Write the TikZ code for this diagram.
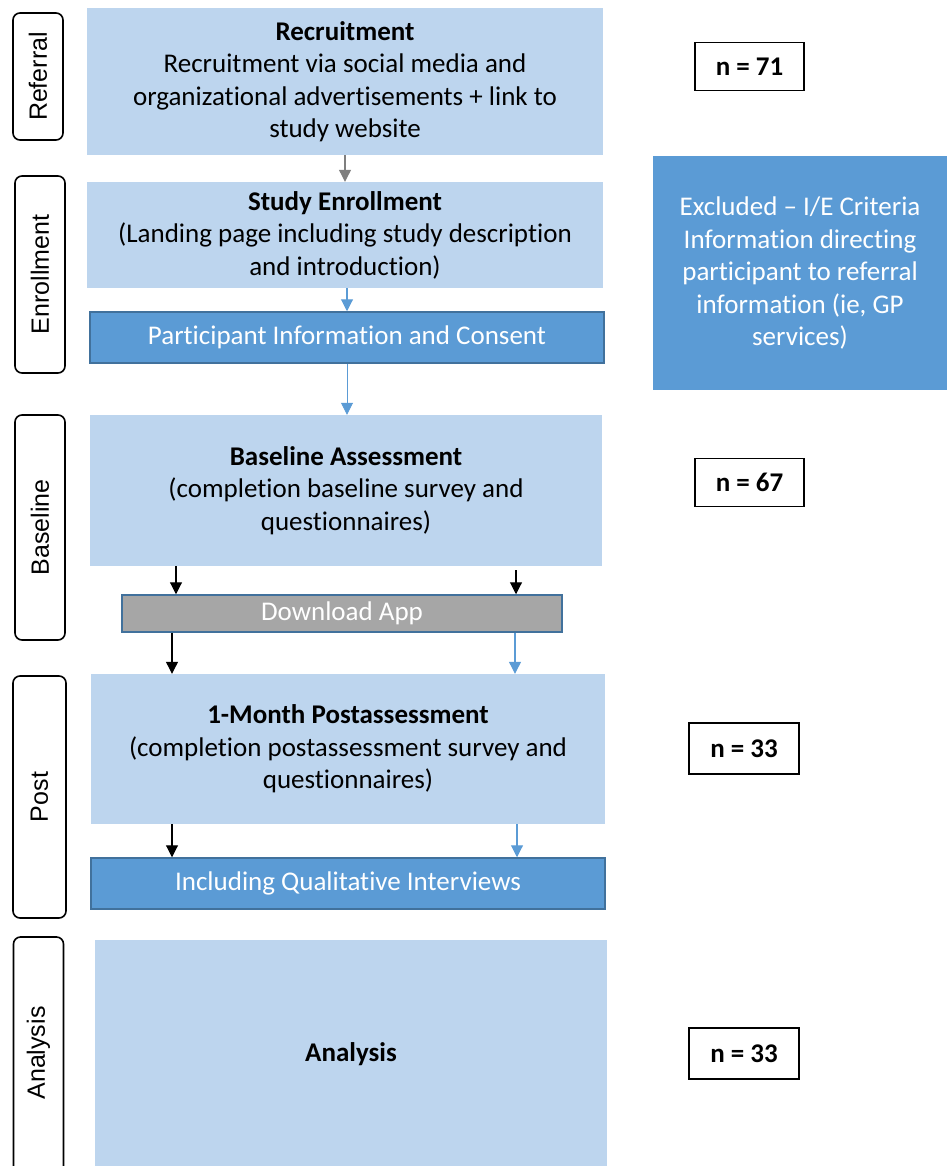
\documentclass[tikz,border=0pt]{standalone}
\usepackage{fontspec}
\setmainfont{Carlito}[Ligatures={NoCommon}]
\newfontfamily\arialf{Liberation Sans}
\usetikzlibrary{arrows.meta}
\definecolor{lblue}{HTML}{BDD5EE}
\definecolor{mblue}{HTML}{5B9BD5}
\definecolor{dblue}{HTML}{41719C}
\definecolor{gbox}{HTML}{A6A6A6}
\definecolor{garr}{HTML}{7F7F7F}
\tikzset{
  txt/.style={font=\fontsize{27}{32.5}\selectfont, align=center},
  lbox/.style={rectangle, fill=lblue, draw=none, txt, inner sep=0pt},
  mbox/.style={rectangle, fill=mblue, draw=dblue, line width=1.5pt, txt, text=white, inner sep=0pt},
  gboxs/.style={rectangle, fill=gbox, draw=dblue, line width=1.5pt, txt, text=white, inner sep=0pt},
  nbox/.style={rectangle, fill=white, draw=black, line width=1.8pt, txt, font=\fontsize{27}{32.5}\selectfont\bfseries, inner sep=0pt, minimum width=109pt, minimum height=48pt},
  sidebox/.style={rectangle, rounded corners=7pt, draw=black, line width=1.6pt, fill=white, minimum width=50pt},
  sidetxt/.style={rotate=90, font=\arialf\fontsize{25}{30}\selectfont},
  arr/.style={-{Triangle[width=12pt,length=12pt]}, line width=1.1pt},
  karr/.style={arr, black},
  barr/.style={arr, mblue},
  garrow/.style={arr, garr},
}
\begin{document}
\begin{tikzpicture}[x=1pt,y=-1pt]
\useasboundingbox (0,0) rectangle (947,1166);
\clip (0,0) rectangle (947,1166);
% side labels
\node[sidebox, minimum height=127pt] (l1) at (38,76.5) {};
\node[sidetxt] (t1) at (l1.center) {Referral};
\node[sidebox, minimum height=197pt] (l2) at (40,274.5) {};
\node[sidetxt] (t2) at (l2.center) {Enrollment};
\node[sidebox, minimum height=225pt] (l3) at (40,527.5) {};
\node[sidetxt] (t3) at (l3.center) {Baseline};
\node[sidebox, minimum width=53pt, minimum height=242pt] (l4) at (39.5,797) {};
\node[sidetxt] (t4) at (l4.center) {Post};
\node[sidebox, minimum height=250pt] (l5) at (38.5,1062) {};
\node[sidetxt] (t5) at (38.5,1053) {Analysis};
% main boxes
\node[lbox, minimum width=516pt, minimum height=147pt] (rec) at (345,81.5)
  {\textbf{Recruitment}\\Recruitment via social media and\\organizational advertisements + link to\\study website};
\node[lbox, minimum width=516pt, minimum height=106pt] (enr) at (345,235)
  {\textbf{Study Enrollment}\\(Landing page including study description\\and introduction)};
\node[mbox, minimum width=514pt, minimum height=51pt] (pic) at (347,337.5)
  {Participant Information and Consent};
\node[lbox, minimum width=512pt, minimum height=151pt] (base) at (346,490.5)
  {\textbf{Baseline Assessment}\\(completion baseline survey and\\questionnaires)};
\node[gboxs, minimum width=440pt, minimum height=37pt] (dl) at (342,613.5)
  {Download App};
\node[lbox, minimum width=514pt, minimum height=150pt] (post) at (348,749)
  {\textbf{1-Month Postassessment}\\(completion postassessment survey and\\questionnaires)};
\node[mbox, minimum width=514pt, minimum height=51pt] (qual) at (348,883.5)
  {Including Qualitative Interviews};
\node[lbox, minimum width=512pt, minimum height=230pt] (ana) at (351,1055)
  {};
\node[txt, font=\fontsize{27}{32.5}\selectfont\bfseries] (anat) at (351,1054) {Analysis};
% right side
\node[nbox] (n1) at (749.5,66.5) {n = 71};
\node[rectangle, fill=mblue, txt, text=white, minimum width=294pt, minimum height=234pt, inner sep=0pt] (exc) at (800,273)
  {Excluded -- I/E Criteria\\Information directing\\participant to referral\\information (ie, GP\\services)};
\node[nbox] (n2) at (749.5,482.5) {n = 67};
\node[nbox, minimum width=110pt, minimum height=51pt] (n3) at (744,748.5) {n = 33};
\node[nbox, minimum width=110pt, minimum height=51pt] (n4) at (744,1053.5) {n = 33};
% arrows
\draw[garrow] (rec.south) -- (enr.north);
\draw[barr] (347,0 |- enr.south) -- (347,0 |- pic.north);
\draw[barr, line width=0.8pt] (pic.south) -- (347,0 |- base.north);
\draw[karr] (176,0 |- base.south) -- (176,0 |- dl.north);
\draw[karr] (516,570) -- (516,0 |- dl.north);
\draw[karr] (172,0 |- dl.south) -- (172,0 |- post.north);
\draw[barr] (515,0 |- dl.south) -- (515,0 |- post.north);
\draw[karr] (172,0 |- post.south) -- (172,0 |- qual.north);
\draw[barr] (517,0 |- post.south) -- (517,0 |- qual.north);
\end{tikzpicture}
\end{document}
